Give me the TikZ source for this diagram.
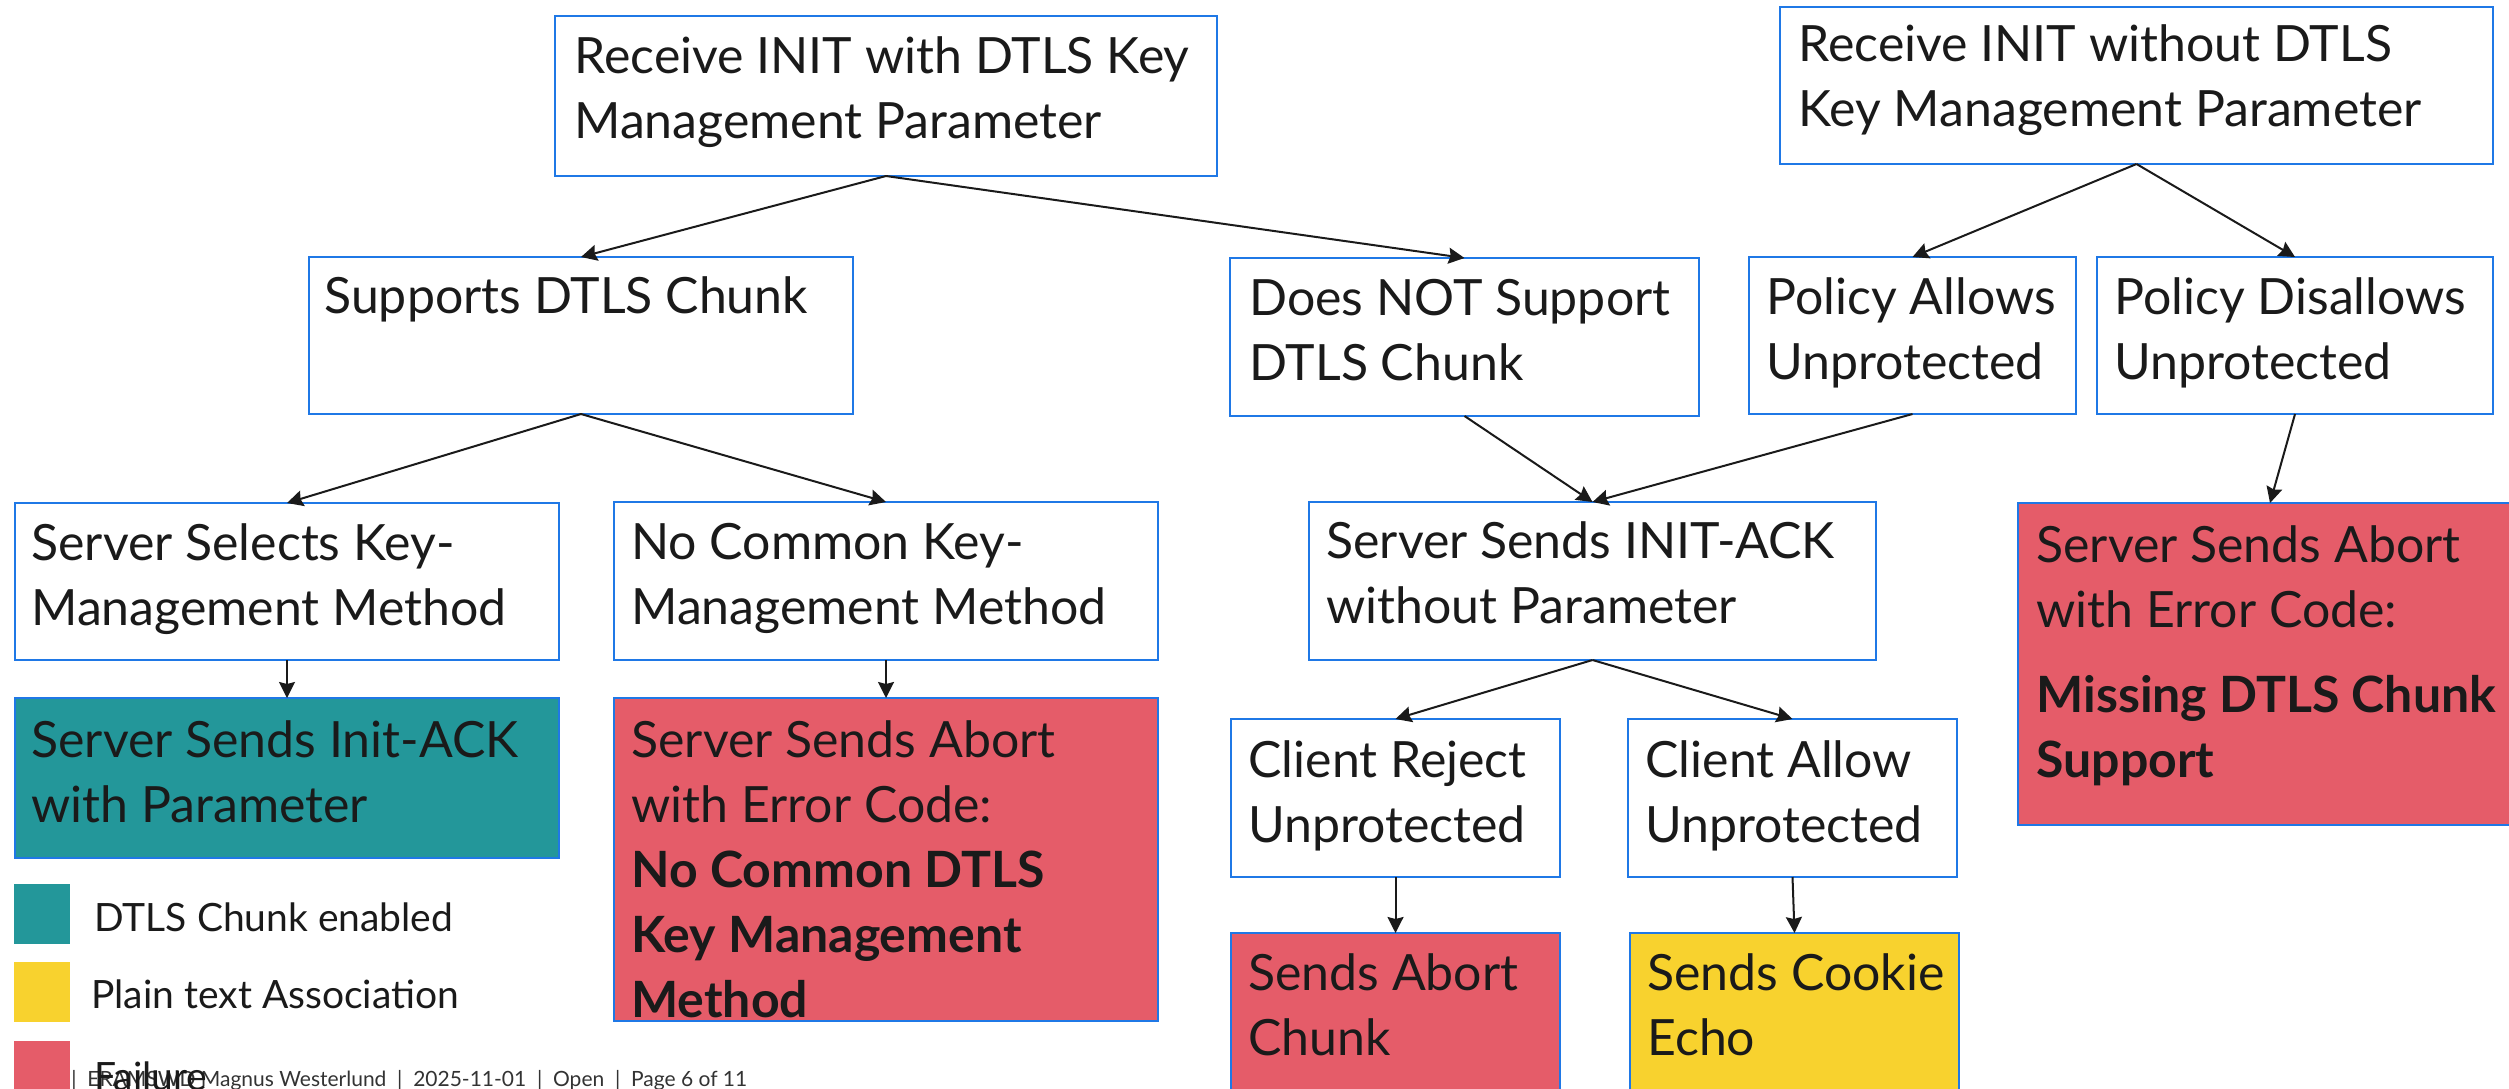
\documentclass[tikz,border=0pt]{standalone}
\usepackage{fontspec}
\setmainfont{Lato}
\usetikzlibrary{fit,arrows.meta}
\definecolor{bordblue}{HTML}{1F78E6}
\definecolor{tealok}{HTML}{23979A}
\definecolor{failred}{HTML}{E55C69}
\definecolor{plainyel}{HTML}{F8D22E}
\definecolor{ink}{HTML}{1A1A1A}
\newcommand\mystrut{\rule{0pt}{24pt}}
\begin{document}
\begin{tikzpicture}[x=0.5pt,y=-0.5pt,
  box/.style={draw=bordblue, line width=1.1pt, inner sep=0pt, outer sep=0pt, rectangle},
  okbox/.style={box, fill=tealok},
  failbox/.style={box, fill=failred},
  plainbox/.style={box, fill=plainyel},
  lbl/.style={anchor=north west, inner sep=0pt, align=left, text=ink, font=\fontsize{25}{32.5}\selectfont},
  conn/.style={draw=ink, line width=1pt, -{Stealth[length=8pt,width=8pt,inset=1pt]}},
  leg/.style={anchor=base west, inner sep=0pt, text=ink, font=\fontsize{19.5}{23}\selectfont},
  swatch/.style={inner sep=0pt, outer sep=0pt, draw=none},
]
\useasboundingbox (0,0) rectangle (2509,1088);
\fill[white] (0,0) rectangle (2509,1088);

% boxes
\node[box, fit={(555,16)(1217,176)}] (A) {};
\node[box, fit={(1780,7)(2493,164)}] (B) {};
\node[box, fit={(309,257)(853,414)}] (C) {};
\node[box, fit={(1230,258)(1699,416)}] (D) {};
\node[box, fit={(1749,257)(2076,414)}] (E) {};
\node[box, fit={(2097,257)(2493,414)}] (F) {};
\node[box, fit={(15,503)(559,660)}] (G) {};
\node[box, fit={(614,502)(1158,660)}] (H) {};
\node[box, fit={(1309,502)(1876,660)}] (I) {};
\node[failbox, fit={(2018,503)(2522,825)}] (J) {};
\node[okbox, fit={(15,698)(559,858)}] (K) {};
\node[failbox, fit={(614,698)(1158,1021)}] (L) {};
\node[box, fit={(1231,719)(1560,877)}] (M) {};
\node[box, fit={(1628,719)(1957,877)}] (N) {};
\node[failbox, fit={(1231,933)(1560,1110)}] (O) {};
\node[plainbox, fit={(1630,933)(1959,1110)}] (P) {};

% texts
\node[lbl] (At) at ([shift={(19,9)}]A.north west) {\mystrut Receive INIT with DTLS Key\\Management Parameter};
\node[lbl] (Bt) at ([shift={(18,6)}]B.north west) {\mystrut Receive INIT without DTLS\\Key Management Parameter};
\node[lbl] (Ct) at ([shift={(15,8)}]C.north west) {\mystrut Supports DTLS Chunk};
\node[lbl] (Dt) at ([shift={(19,9)}]D.north west) {\mystrut Does NOT Support\\DTLS Chunk};
\node[lbl] (Et) at ([shift={(17,9)}]E.north west) {\mystrut Policy Allows\\Unprotected};
\node[lbl] (Ft) at ([shift={(17,9)}]F.north west) {\mystrut Policy Disallows\\Unprotected};
\node[lbl] (Gt) at ([shift={(16,9)}]G.north west) {\mystrut Server Selects Key-\\Management Method};
\node[lbl] (Ht) at ([shift={(17,9)}]H.north west) {\mystrut No Common Key-\\Management Method};
\node[lbl] (It) at ([shift={(17,8)}]I.north west) {\mystrut Server Sends INIT-ACK\\without Parameter};
\node[lbl] (Jt) at ([shift={(18,11)}]J.north west) {\mystrut Server Sends Abort\\with Error Code:\\[10pt]\bfseries Missing DTLS Chunk\\\bfseries Support};
\node[lbl] (Kt) at ([shift={(16,11)}]K.north west) {\mystrut Server Sends Init-ACK\\with Parameter};
\node[lbl] (Lt) at ([shift={(17,11)}]L.north west) {\mystrut Server Sends Abort\\with Error Code:\\\bfseries No Common DTLS\\\bfseries Key Management\\\bfseries Method};
\node[lbl] (Mt) at ([shift={(17,10)}]M.north west) {\mystrut Client Reject\\Unprotected};
\node[lbl] (Nt) at ([shift={(17,10)}]N.north west) {\mystrut Client Allow\\Unprotected};
\node[lbl] (Ot) at ([shift={(17,9)}]O.north west) {\mystrut Sends Abort\\Chunk};
\node[lbl] (Pt) at ([shift={(17,9)}]P.north west) {\mystrut Sends Cookie\\Echo};

% connectors
\draw[conn] (A.south) -- (C.north);
\draw[conn] (A.south) -- (D.north);
\draw[conn] (B.south) -- (E.north);
\draw[conn] (B.south) -- (F.north);
\draw[conn] (C.south) -- (G.north);
\draw[conn] (C.south) -- (H.north);
\draw[conn] (G.south) -- (K.north);
\draw[conn] (H.south) -- (L.north);
\draw[conn] (D.south) -- (I.north);
\draw[conn] (E.south) -- (I.north);
\draw[conn] (F.south) -- (J.north);
\draw[conn] (I.south) -- (M.north);
\draw[conn] (I.south) -- (N.north);
\draw[conn] (M.south) -- (O.north);
\draw[conn] (N.south) -- (P.north);

% legend
\node[swatch, fill=tealok, fit={(14,884)(70,944)}] (sw1) {};
\node[swatch, fill=plainyel, fit={(14,962)(70,1022)}] (sw2) {};
\node[swatch, fill=failred, fit={(14,1041)(70,1101)}] (sw3) {};
\node[leg] (lg1) at (94,931) {DTLS Chunk enabled};
\node[leg] (lg2) at (91,1008) {Plain text Association};

% footer
\node[anchor=base west, inner sep=0pt, text=black!80, font=\fontsize{10.5}{12}\selectfont] (foot) at (71,1086) {|\ \ ERAMSWD Magnus Westerlund\ \ |\ \ 2025-11-01\ \ |\ \ Open\ \ |\ \ Page 6 of 11};
\node[leg] (lg3) at (94,1090) {Failure};
\end{tikzpicture}
\end{document}
